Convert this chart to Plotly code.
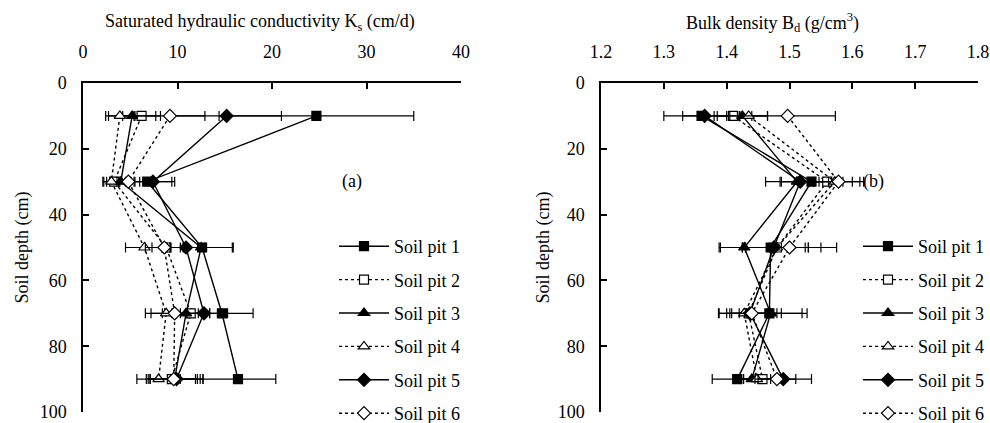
import plotly.graph_objects as go

depths = [10, 30, 50, 70, 90]
pits = ["Soil pit 1", "Soil pit 2", "Soil pit 3", "Soil pit 4", "Soil pit 5", "Soil pit 6"]

# Saturated hydraulic conductivity Ks (cm/d)
ks_pit1 = [24.7, 6.8, 12.6, 14.7, 16.4]
ks_pit2 = [6.2, 3.3, 8.8, 11.4, 9.4]
ks_pit3 = [5.2, 4.0, 12.5, 10.9, 9.7]
ks_pit4 = [3.9, 3.0, 6.5, 8.8, 8.0]
ks_pit5 = [15.2, 7.4, 10.9, 12.8, 9.9]
ks_pit6 = [9.2, 4.8, 8.6, 9.7, 9.6]
ks_err1 = [10.3, 2.9, 3.3, 3.3, 4.0]
ks_err2 = [2.0, 1.2, 1.5, 2.0, 2.5]
ks_err3 = [2.5, 1.5, 3.3, 2.5, 3.0]
ks_err4 = [1.5, 0.8, 2.0, 2.2, 2.3]
ks_err5 = [5.8, 2.0, 2.0, 2.5, 2.8]
ks_err6 = [3.7, 1.2, 2.0, 2.5, 2.5]

# Bulk density Bd (g/cm3)
bd_pit1 = [1.360, 1.535, 1.470, 1.468, 1.417]
bd_pit2 = [1.410, 1.560, 1.480, 1.435, 1.457]
bd_pit3 = [1.425, 1.512, 1.428, 1.470, 1.440]
bd_pit4 = [1.435, 1.572, 1.480, 1.428, 1.448]
bd_pit5 = [1.365, 1.517, 1.475, 1.437, 1.490]
bd_pit6 = [1.497, 1.578, 1.500, 1.440, 1.480]
bd_err1 = [0.06, 0.05, 0.08, 0.06, 0.04]
bd_err2 = [0.03, 0.04, 0.05, 0.03, 0.03]
bd_err3 = [0.04, 0.05, 0.04, 0.05, 0.03]
bd_err4 = [0.03, 0.04, 0.05, 0.04, 0.03]
bd_err5 = [0.035, 0.03, 0.05, 0.05, 0.045]
bd_err6 = [0.076, 0.04, 0.075, 0.04, 0.03]

ks_vals = [ks_pit1, ks_pit2, ks_pit3, ks_pit4, ks_pit5, ks_pit6]
ks_errs = [ks_err1, ks_err2, ks_err3, ks_err4, ks_err5, ks_err6]
bd_vals = [bd_pit1, bd_pit2, bd_pit3, bd_pit4, bd_pit5, bd_pit6]
bd_errs = [bd_err1, bd_err2, bd_err3, bd_err4, bd_err5, bd_err6]

symbols = ["square", "square", "triangle-up", "triangle-up", "diamond", "diamond"]
fills = ["black", "white", "black", "white", "black", "white"]
dashes = ["solid", "3px,3px", "solid", "3px,3px", "solid", "3px,3px"]
sizes = [9, 9, 10, 10, 10, 10]

FONT = "Liberation Serif, Times New Roman, serif"
fig = go.Figure()

for i in range(6):
    for panel, vals, errs, xa, leg in [("a", ks_vals, ks_errs, "x", "legend"),
                                       ("b", bd_vals, bd_errs, "x2", "legend2")]:
        fig.add_trace(go.Scatter(
            x=vals[i], y=depths, name=pits[i],
            xaxis=xa, yaxis="y" if xa == "x" else "y2",
            mode="lines+markers",
            line=dict(color="black", width=1.4, dash=dashes[i]),
            marker=dict(symbol=symbols[i], size=sizes[i], color=fills[i],
                        line=dict(color="black", width=1.2)),
            error_x=dict(type="data", array=errs[i], visible=True,
                         color="black", thickness=1.2, width=5),
            legend=leg, legendgroup=panel + str(i),
        ))

axis_common = dict(
    showline=True, linecolor="black", linewidth=1.5,
    ticks="inside", ticklen=6, tickwidth=1.5, tickcolor="black",
    showgrid=False, zeroline=False,
    tickfont=dict(family=FONT, size=18, color="black"),
)

W, H, T, B = 990, 423, 83, 11
PH = H - T - B

def py(pix):
    """paper y from pixel row"""
    return (H - B - pix) / PH

fig.update_layout(
    width=W, height=H,
    margin=dict(l=0, r=0, t=T, b=B, autoexpand=False),
    paper_bgcolor="white", plot_bgcolor="white",
    font=dict(family=FONT, size=18, color="black"),
    xaxis=dict(domain=[83/W, 461/W], range=[0, 40], dtick=10, side="top",
               anchor="y", ticklabelstandoff=16, **axis_common),
    yaxis=dict(domain=[0, 1], range=[100, 0], dtick=20, anchor="x",
               ticklabelstandoff=11, **axis_common),
    xaxis2=dict(domain=[601/W, 978/W], range=[1.2, 1.8], dtick=0.1,
                tickformat=".1f", side="top", anchor="y2",
                ticklabelstandoff=16, **axis_common),
    yaxis2=dict(domain=[0, 1], range=[100, 0], dtick=20, anchor="x2",
                ticklabelstandoff=11, **axis_common),
    legend=dict(x=334/W, xanchor="left", y=py(228), yanchor="top",
                bgcolor="rgba(0,0,0,0)", tracegroupgap=7, itemwidth=50,
                font=dict(family=FONT, size=18, color="black")),
    legend2=dict(x=858/W, xanchor="left", y=py(228), yanchor="top",
                 bgcolor="rgba(0,0,0,0)", tracegroupgap=7, itemwidth=50,
                 font=dict(family=FONT, size=18, color="black")),
    showlegend=True,
    annotations=[
        dict(text="Saturated hydraulic conductivity K<sub>s</sub> (cm/d)",
             x=260/W, y=py(22), xref="paper", yref="paper",
             xanchor="center", yanchor="middle",
             showarrow=False, font=dict(family=FONT, size=18)),
        dict(text="Bulk density B<sub>d</sub> (g/cm<sup>3</sup>)",
             x=772/W, y=py(22), xref="paper", yref="paper",
             xanchor="center", yanchor="middle",
             showarrow=False, font=dict(family=FONT, size=18)),
        dict(text="Soil depth (cm)", textangle=-90, x=22/W, y=0.5,
             xref="paper", yref="paper", xanchor="center", yanchor="middle",
             showarrow=False, font=dict(family=FONT, size=18)),
        dict(text="Soil depth (cm)", textangle=-90, x=543/W, y=0.5,
             xref="paper", yref="paper", xanchor="center", yanchor="middle",
             showarrow=False, font=dict(family=FONT, size=18)),
        dict(text="(a)", x=28.5, y=30, xref="x", yref="y", showarrow=False,
             font=dict(family=FONT, size=18)),
        dict(text="(b)", x=1.633, y=30, xref="x2", yref="y2", showarrow=False,
             font=dict(family=FONT, size=18)),
    ],
)

fig.write_html("out.html",
               config={"displayModeBar": False},
               post_script="document.body.style.margin='0px';")
